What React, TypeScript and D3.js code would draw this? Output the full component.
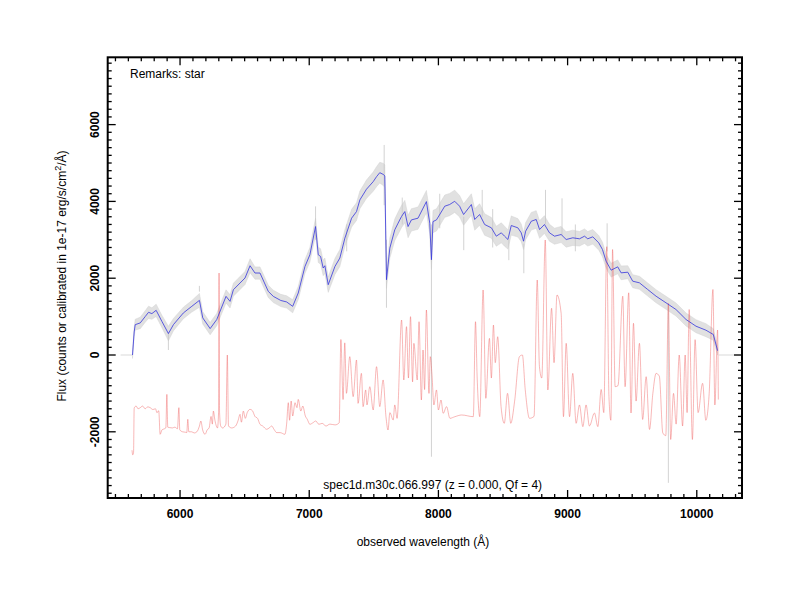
import React from 'react';
import * as d3 from 'd3';

// [wavelength (Å), flux, grey noise half-width]
const blueSpectrum: [number, number, number][] = [
  [5632, 0, 90], [5645, 600, 120], [5653, 790, 140], [5692, 836, 150], [5730, 1000, 150],
  [5756, 1112, 160], [5782, 1078, 150], [5815, 1164, 160], [5859, 878, 160], [5910, 558, 190],
  [5949, 792, 160], [6026, 1096, 150], [6091, 1268, 150], [6150, 1423, 180], [6176, 966, 160],
  [6233, 688, 160], [6284, 922, 160], [6356, 1527, 170], [6387, 1397, 170], [6413, 1701, 170],
  [6503, 2005, 170], [6542, 2325, 180], [6580, 2135, 160], [6619, 2135, 160], [6683, 1657, 160],
  [6722, 1527, 160], [6780, 1420, 160], [6825, 1382, 160], [6872, 1268, 170], [6915, 1615, 170],
  [6967, 2306, 180], [7005, 2610, 190], [7049, 3345, 220], [7070, 2610, 200], [7088, 2566, 200],
  [7108, 2265, 200], [7121, 2325, 200], [7147, 1831, 200], [7199, 2306, 210], [7237, 2525, 220],
  [7276, 3044, 220], [7328, 3563, 230], [7366, 3735, 230], [7392, 4039, 230], [7443, 4317, 240],
  [7495, 4514, 250], [7521, 4644, 260], [7546, 4748, 270], [7575, 4700, 290], [7585, 4662, 290],
  [7598, 1961, 230], [7624, 2784, 260], [7662, 3260, 280], [7688, 3434, 290], [7714, 3605, 290],
  [7740, 3735, 290], [7765, 3345, 290], [7791, 3519, 290], [7842, 3563, 290], [7907, 3995, 290],
  [7933, 3434, 290], [7946, 2481, 260], [7958, 3475, 290], [7985, 3519, 290], [8049, 3875, 290],
  [8087, 3919, 290], [8126, 4003, 290], [8164, 3875, 280], [8195, 3659, 280], [8255, 3919, 280],
  [8281, 3529, 280], [8319, 3659, 280], [8358, 3398, 280], [8410, 3312, 270], [8448, 3094, 260],
  [8487, 3182, 260], [8512, 3094, 260], [8538, 3008, 250], [8564, 3372, 250], [8615, 3312, 240],
  [8641, 3182, 230], [8659, 2964, 220], [8675, 3224, 220], [8719, 3484, 230], [8757, 3529, 230],
  [8783, 3268, 230], [8821, 3398, 230], [8860, 3182, 220], [8899, 3094, 210], [8950, 3138, 210],
  [8989, 3008, 200], [9040, 3052, 200], [9092, 3026, 190], [9131, 3094, 190], [9156, 3026, 190],
  [9195, 3078, 190], [9241, 2922, 190], [9270, 2747, 190], [9298, 2443, 180], [9337, 2209, 180],
  [9388, 2296, 180], [9414, 2140, 180], [9466, 2156, 170], [9504, 1922, 170], [9556, 1880, 170],
  [9620, 1706, 170], [9685, 1531, 170], [9762, 1359, 170], [9839, 1185, 170], [9917, 924, 170],
  [9994, 750, 170], [10071, 646, 170], [10128, 534, 150], [10161, 112, 110],
];

// [wavelength (Å), top flux, bottom flux] of single noisy grey pixels
const greySpikes: [number, number, number][] = [
  [5910, 130, 600], [6150, 1650, 1800], [7049, 3000, 3870], [7580, 3900, 5470],
  [7598, 1230, 3000], [7946, -2650, 3400], [8196, 2730, 3600], [8339, 3600, 4300],
  [8545, 2470, 3000], [8661, 2130, 2900], [8829, 3400, 4300], [8957, 3100, 4080],
  [9306, 2700, 3430], [9780, -3330, 1300], [7290, 2700, 3400], [7720, 3400, 4100],
  [8010, 3300, 4200], [8420, 2800, 3800], [9060, 2700, 3400],
];

// zero-valued grey pixels outside the observed range
const greyZero: [number, number][] = [[5540, 5632], [10170, 10340]];

const redSpectrum: [number, number][] = [
  [5628, -2480], [5634, -2600], [5640, -2550], [5645, -1380], [5660, -1330], [5675, -1400],
  [5692, -1372], [5710, -1330], [5730, -1400], [5750, -1350], [5769, -1372], [5790, -1420],
  [5810, -1400], [5821, -1502], [5835, -1450], [5846, -2065], [5860, -1950], [5872, -1930],
  [5890, -1900], [5898, -1026], [5905, -1880], [5920, -1891], [5940, -1900], [5960, -1880],
  [5980, -1920], [5991, -1372], [5998, -1950], [6020, -2000], [6040, -2010], [6052, -2021],
  [6060, -1675], [6068, -2000], [6090, -2000], [6110, -2030], [6130, -2000], [6150, -1850],
  [6161, -1719], [6175, -1950], [6194, -2065], [6210, -1950], [6225, -1900], [6240, -1600],
  [6250, -1800], [6258, -1460], [6270, -1700], [6290, -1900], [6298, -1500], [6302, 2135],
  [6306, -1500], [6315, -1850], [6330, -1900], [6355, -1800], [6366, 0], [6375, -1850],
  [6400, -1900], [6430, -1850], [6450, -1700], [6464, -1545], [6475, -1750], [6490, -1460],
  [6505, -1650], [6520, -1500], [6542, -1415], [6560, -1450], [6580, -1600], [6600, -1650],
  [6619, -1805], [6640, -1850], [6671, -1935], [6690, -1900], [6709, -1850], [6730, -1950],
  [6748, -2021], [6774, -2021], [6812, -2065], [6825, -1800], [6838, -1242], [6848, -1700],
  [6860, -1199], [6872, -1589], [6890, -1242], [6905, -1372], [6915, -1156], [6935, -1460],
  [6950, -1329], [6970, -1589], [6985, -1675], [7005, -1805], [7030, -1761], [7050, -1719],
  [7075, -1805], [7100, -1780], [7130, -1850], [7160, -1800], [7200, -1820], [7232, -1766],
  [7245, 403], [7262, -1159], [7275, 317], [7288, -998], [7314, -43], [7340, -1085],
  [7366, -130], [7378, -1259], [7404, -478], [7417, -1345], [7437, -910], [7447, -1300],
  [7469, -825], [7495, -1432], [7521, -304], [7546, -1345], [7572, -650], [7594, -1606],
  [7610, -1953], [7624, -1500], [7650, -1693], [7662, -1300], [7680, -1650], [7715, 911],
  [7732, -650], [7753, 738], [7768, -600], [7784, 998], [7800, -700], [7810, 304],
  [7836, -650], [7850, 867], [7868, -1172], [7881, 130], [7893, -900], [7907, 1172],
  [7927, -1000], [7937, -43], [7950, -500], [7965, -1300], [7985, -910], [8000, -1432],
  [8020, -1172], [8037, -1519], [8063, -1345], [8089, -1649], [8128, -1606], [8180, -1562],
  [8270, -1606], [8287, 867], [8300, -600], [8320, -1606], [8346, 1693], [8367, -1128],
  [8395, 434], [8410, -600], [8426, 780], [8440, -200], [8459, 477], [8485, -1345],
  [8510, -1779], [8535, -998], [8560, -1779], [8590, -1200], [8627, -43], [8650, 0],
  [8672, -900], [8705, -1649], [8740, -1600], [8765, 1953], [8782, -300], [8800, -600],
  [8827, 2995], [8847, -910], [8876, 1216], [8895, -200], [8918, 1563], [8950, 1085],
  [8968, -1606], [8989, 304], [9015, -1606], [9040, -478], [9066, -1779], [9092, -1300],
  [9118, -1866], [9143, -1300], [9169, -1850], [9208, -1510], [9234, -1866], [9260, -898],
  [9280, -1500], [9303, 2820], [9320, -1073], [9335, -1700], [9348, 2747], [9368, -825],
  [9390, -800], [9427, 1531], [9445, -825], [9473, 1620], [9491, -1510], [9510, 825],
  [9530, -1200], [9556, 304], [9581, -1680], [9608, -565], [9634, -1940], [9660, -998],
  [9685, -478], [9710, -550], [9737, -2030], [9760, -2100], [9780, 1346], [9798, -2200],
  [9820, -1000], [9840, -1800], [9864, 0], [9890, -1850], [9910, 0], [9925, -1500],
  [9941, 1185], [9966, -2200], [9987, 400], [10010, -1500], [10045, -737], [10070, -1700],
  [10096, -998], [10125, 1706], [10140, -1300], [10161, 651], [10167, -1160],
];

const xMajorTicks = [6000, 7000, 8000, 9000, 10000];
const yMajorTicks = [-2000, 0, 2000, 4000, 6000];
const xDomain: [number, number] = [5440, 10350];
const yDomain: [number, number] = [-3724, 7753];

const remarks = 'Remarks: star';
const title = 'spec1d.m30c.066.997 (z = 0.000, Qf = 4)';
const xLabel = 'observed wavelength (Å)';

const L = 107.7, R = 742, T = 57.3, B = 498;
const FONT = '"Liberation Sans", Arial, Helvetica, sans-serif';

export default function App() {
  const x = d3.scaleLinear().domain(xDomain).range([L, R]);
  const y = d3.scaleLinear().domain(yDomain).range([B, T]);

  const xMinor = d3.range(5500, xDomain[1], 100).filter((v) => !xMajorTicks.includes(v));
  const yMinor = d3.range(-3600, yDomain[1], 200).filter((v) => !yMajorTicks.includes(v));

  const redLine = d3
    .line<[number, number]>()
    .x((d) => x(d[0]))
    .y((d) => y(d[1]))
    .curve(d3.curveMonotoneX);
  const blueLine = d3
    .line<[number, number, number]>()
    .x((d) => x(d[0]))
    .y((d) => y(d[1]));
  const band = d3
    .area<[number, number, number]>()
    .x((d) => x(d[0]))
    .y0((d) => y(d[1] - d[2]))
    .y1((d) => y(d[1] + d[2]));

  const tickStroke = 1.3;
  return (
    <svg width={800} height={600} style={{ position: 'absolute', left: 0, top: 0, background: '#fff' }}>
      <defs>
        <clipPath id="plot">
          <rect x={L} y={T} width={R - L} height={B - T} />
        </clipPath>
      </defs>
      <g clipPath="url(#plot)">
        {greyZero.map((s, i) => (
          <line key={'z' + i} x1={x(s[0])} x2={x(s[1])} y1={y(0)} y2={y(0)} stroke="#cfcfcf" strokeWidth={0.8} />
        ))}
        <path d={band(blueSpectrum) || ''} fill="#d4d4d4" fillOpacity={0.7} stroke="#cccccc" strokeWidth={0.4} />
        {greySpikes.map((s, i) => (
          <line key={'g' + i} x1={x(s[0])} x2={x(s[0])} y1={y(s[1])} y2={y(s[2])} stroke="#c8c8c8" strokeWidth={0.8} />
        ))}
        <path d={redLine(redSpectrum) || ''} fill="none" stroke="#ee5555" strokeOpacity={0.6} strokeWidth={0.7} />
        <path d={blueLine(blueSpectrum) || ''} fill="none" stroke="#3838dd" strokeOpacity={0.9} strokeWidth={0.9} />
      </g>

      <rect x={L} y={T} width={R - L} height={B - T} fill="none" stroke="#000" strokeWidth={2} />

      {xMajorTicks.map((v) => (
        <g key={'xm' + v}>
          <line x1={x(v)} x2={x(v)} y1={B} y2={B - 8} stroke="#000" strokeWidth={tickStroke} />
          <line x1={x(v)} x2={x(v)} y1={T} y2={T + 8} stroke="#000" strokeWidth={tickStroke} />
          <text x={x(v)} y={517.5} textAnchor="middle" fontFamily={FONT} fontWeight="bold" fontSize={12}>
            {v}
          </text>
        </g>
      ))}
      {xMinor.map((v) => (
        <g key={'xn' + v}>
          <line x1={x(v)} x2={x(v)} y1={B} y2={B - 4} stroke="#000" strokeWidth={tickStroke} />
          <line x1={x(v)} x2={x(v)} y1={T} y2={T + 4} stroke="#000" strokeWidth={tickStroke} />
        </g>
      ))}

      {yMajorTicks.map((v) => (
        <g key={'ym' + v}>
          <line x1={L} x2={L + 8} y1={y(v)} y2={y(v)} stroke="#000" strokeWidth={tickStroke} />
          <line x1={R} x2={R - 8} y1={y(v)} y2={y(v)} stroke="#000" strokeWidth={tickStroke} />
          <text
            transform={`translate(98.5,${y(v)}) rotate(-90)`}
            textAnchor="middle"
            fontFamily={FONT}
            fontWeight="bold"
            fontSize={12}
          >
            {v}
          </text>
        </g>
      ))}
      {yMinor.map((v) => (
        <g key={'yn' + v}>
          <line x1={L} x2={L + 4} y1={y(v)} y2={y(v)} stroke="#000" strokeWidth={tickStroke} />
          <line x1={R} x2={R - 4} y1={y(v)} y2={y(v)} stroke="#000" strokeWidth={tickStroke} />
        </g>
      ))}

      <text x={130} y={77.5} fontFamily={FONT} fontSize={12}>
        {remarks}
      </text>
      <text x={432.7} y={488.5} textAnchor="middle" fontFamily={FONT} fontSize={12}>
        {title}
      </text>
      <text x={423} y={546} textAnchor="middle" fontFamily={FONT} fontSize={12}>
        {xLabel}
      </text>
      <text transform="translate(66,276) rotate(-90)" textAnchor="middle" fontFamily={FONT} fontSize={12}>
        Flux (counts or calibrated in 1e-17 erg/s/cm
        <tspan dy={-5} fontSize={9}>2</tspan>
        <tspan dy={5}>/Å)</tspan>
      </text>
    </svg>
  );
}
